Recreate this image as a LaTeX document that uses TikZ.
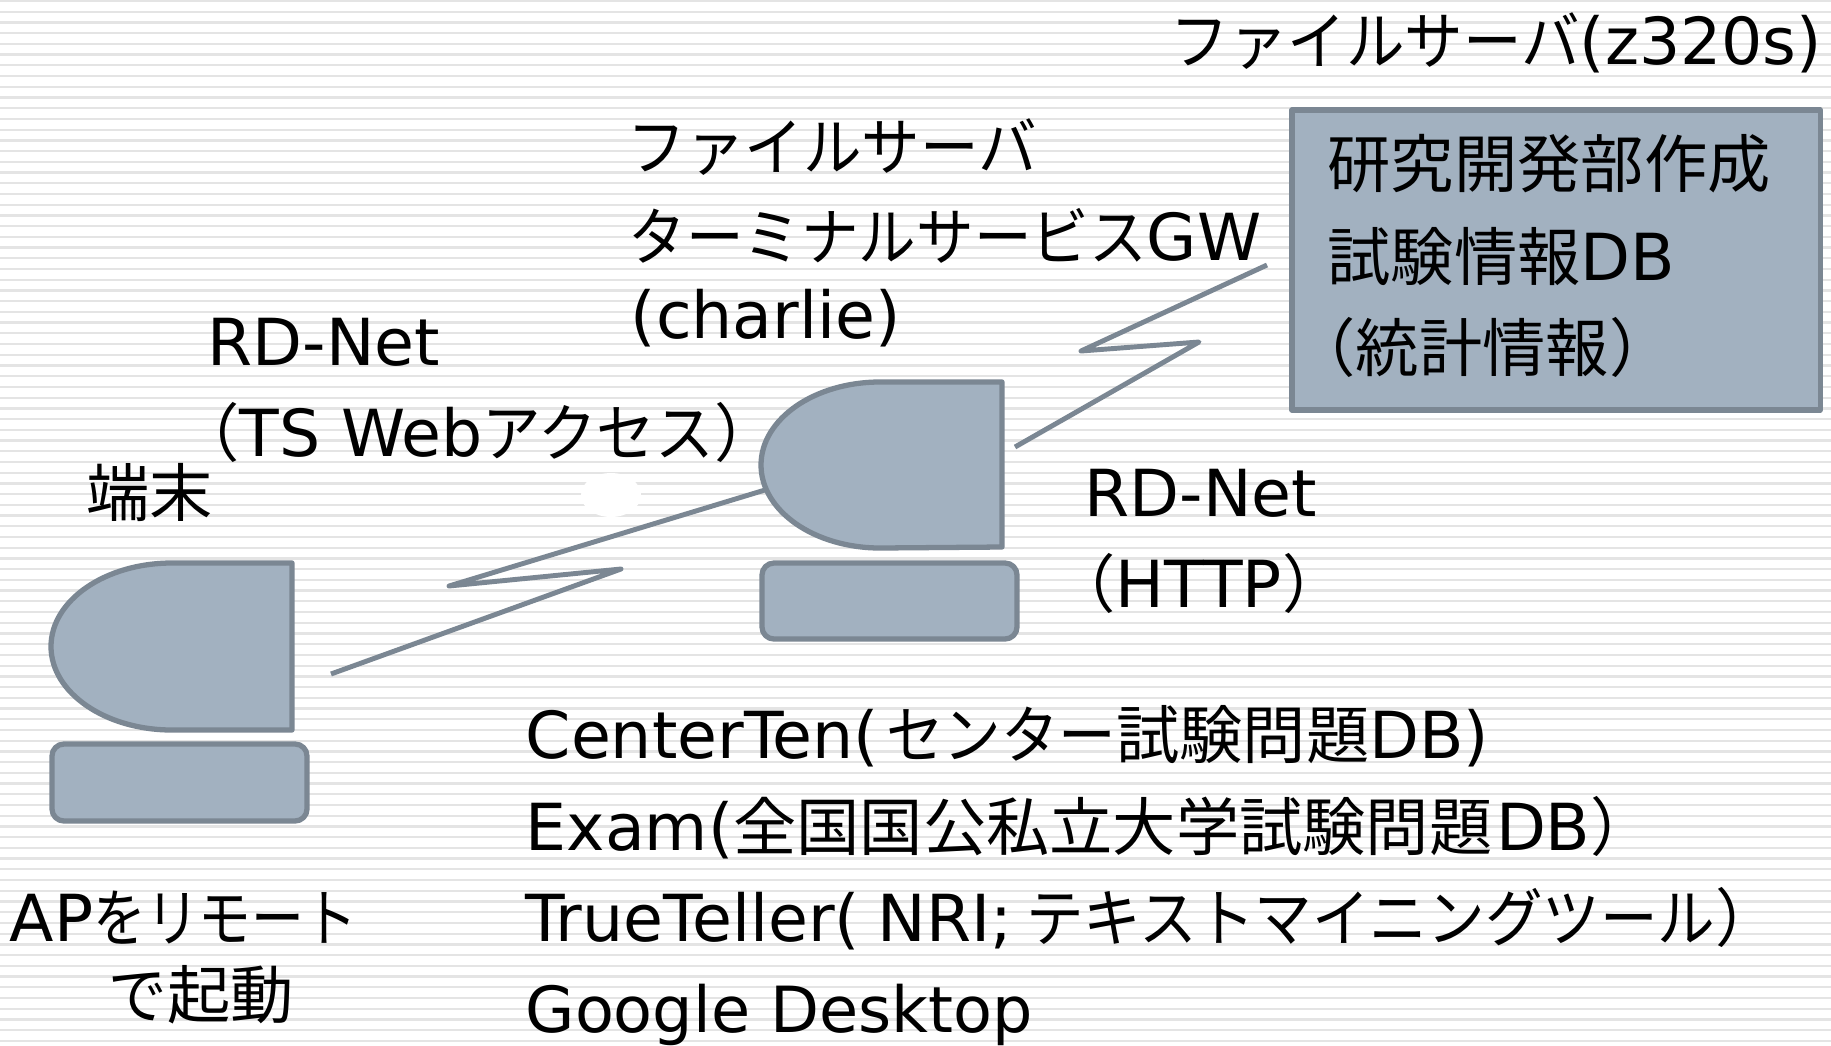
\documentclass[tikz,border=0pt]{standalone}
\usepackage{fontspec}
\usepackage{xcolor}
\setmainfont{DejaVu Sans}
\newfontfamily\kanjifont[Scale=0.975]{Noto Sans CJK JP}
\newfontfamily\kanafont[Scale=0.975, FakeStretch=0.925]{Noto Sans CJK JP}
\newfontfamily\slimfont[Scale=0.975, FakeStretch=0.91]{Noto Sans CJK JP}
\newfontfamily\narrowfont[Scale=0.975, FakeStretch=0.835]{Noto Sans CJK JP}
\newcommand{\kj}[1]{{\kanjifont #1}}
\newcommand{\ka}[1]{{\kanafont #1}}
\newcommand{\kb}[1]{{\slimfont #1}}
\definecolor{boxfill}{HTML}{A2B1C0}
\definecolor{boxline}{HTML}{7B8793}
\definecolor{stripe}{HTML}{E4E4E4}
\tikzset{
  label text/.style={anchor=base west, inner sep=0pt, font=\fontsize{18.45}{22}\selectfont},
  unit/.style={draw=boxline, fill=boxfill, line width=1.5pt, line join=round},
  keyboard/.style={unit, rounded corners=3.4pt},
  zigzag/.style={draw=boxline, line width=1.4pt, line join=round},
}
\begin{document}
\begin{tikzpicture}[x=0.01cm, y=-0.01cm]
\useasboundingbox (0,0) rectangle (1831,1045);
\clip (0,0) rectangle (1831,1045);
\fill[white] (0,0) rectangle (1831,1045);

% Draw the background stripes
\foreach \n in {0,...,97}
{
    \draw[stripe, line width=0.65pt] (0, {1+10.72*\n}) -- (1831, {1+10.72*\n});
}

% White spot left of the middle terminal
\fill[white] (611,495) ellipse [x radius=30, y radius=22];

% Draw the terminals
\draw[unit] (292,563) -- (172,563) arc[start angle=-90, end angle=-270, x radius=121, y radius=83.5] -- (292,730) -- cycle;
\draw[keyboard] (52,744) rectangle (307,821);
\draw[unit] (1002,382) -- (880,382) arc[start angle=-90, end angle=-270, x radius=119, y radius=83] -- (1002,547) -- cycle;
\draw[keyboard] (762,563) rectangle (1017,639);

% Draw the file server box
\node[unit, minimum width=528pt*0.2845, minimum height=300pt*0.2845, inner sep=0pt] (dbbox) at (1556,260) {};

% Ends and corners of the lines
\coordinate (pcEnd) at (331,674);
\coordinate (pcA) at (621,569);
\coordinate (pcB) at (449,586);
\coordinate (gwWest) at (765,490);
\coordinate (gwEast) at (1015,447);
\coordinate (gwA) at (1199,342);
\coordinate (gwB) at (1081,351);
\coordinate (dbEnd) at (1267,265);

% Draw the lines
\draw[zigzag] (pcEnd) -- (pcA) -- (pcB) -- (gwWest);
\draw[zigzag] (gwEast) -- (gwA) -- (gwB) -- (dbEnd);

% Add labels
\node[label text] (zserver) at (1170,64) {\ka{ファイルサーバ}(z320s)};
\node[label text] (fserver) at (627,170) {\ka{ファイルサーバ}};
\node[label text] (tsgw) at (628,260) {\kb{ターミナルサービス}GW};
\node[label text] (charlie) at (630,338) {(charlie)};
\node[label text] (netA) at (207,365) {RD-Net};
\node[label text] (tsweb) at (176,456) {\kj{（}TS Web\ka{アクセス}\kj{）}};
\node[label text] (term) at (86,516) {\kj{端末}};
\node[label text] (dbA) at (1327,187) {\kj{研究開発部作成}};
\node[label text] (dbB) at (1327,280) {\kj{試験情報}DB};
\node[label text] (dbC) at (1292,371) {\kj{（統計情報）}};
\node[label text] (netB) at (1084,516) {RD-Net};
\node[label text] (http) at (1052,607) {\kj{（}HTTP\kj{）}};
\node[label text] (listA) at (525,758) {CenterTen(\kern2pt\kb{センター}\kj{試験問題}DB)};
\node[label text] (listB) at (525,850) {Exam(\kj{全国国公私立大学試験問題}\kern1pt DB\kj{）}};
\node[label text] (listC) at (525,941) {TrueTeller(\kern5pt NRI;\kern4pt\kb{テキストマイニングツール}\kj{）}};
\node[label text] (listD) at (525,1032) {\fontsize{18.1}{22}\selectfont Google Desktop};
\node[label text] (apA) at (9,941) {AP{\narrowfont をリモート}};
\node[label text] (apB) at (108,1018) {\ka{で}\kj{起動}};

\end{tikzpicture}
\end{document}
